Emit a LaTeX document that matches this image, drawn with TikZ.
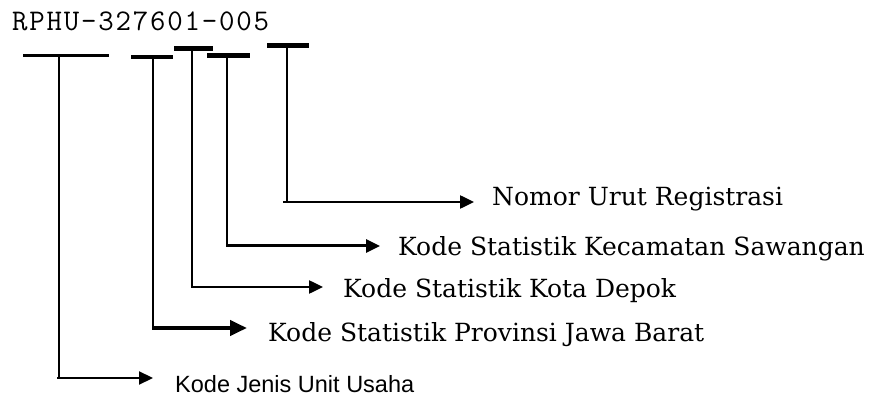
\documentclass[tikz,border=0pt]{standalone}
\usepackage{fontspec}
\setmainfont{DejaVu Serif}
\newfontfamily\monof[LetterSpace=6.0]{Latin Modern Mono}
\newfontfamily\sansf{Liberation Sans}
\usetikzlibrary{arrows.meta}
\begin{document}
\begin{tikzpicture}[x=1pt,y=-1pt,
  barline/.style={line width=#1},
  vline/.style={line width=1.8pt},
  harr/.style={line width=#1,-{Triangle[length=14pt,width=13pt]}},
  lab/.style={anchor=base west,inner sep=0pt,font=\fontsize{25}{30}\selectfont},
  jlab/.style={anchor=base west,inner sep=0pt,font=\sansf\fontsize{23.5}{27}\selectfont},
  title/.style={anchor=base west,inner sep=0pt,font=\monof\fontsize{30}{34}\selectfont}]
\useasboundingbox (0,0) rectangle (873,398);
% title
\node[title] (code) at (12,31) {RPHU-327601-005};
% bars
\coordinate (t1) at (59,56);
\coordinate (t2) at (153,57);
\coordinate (t3) at (192,48.5);
\coordinate (t4) at (227,55.5);
\coordinate (t5) at (287,45.5);
\draw[barline=3pt] (23,56) -- (109,56);
\draw[barline=4.5pt] (131,57) -- (173,57);
\draw[barline=5pt] (174,48.5) -- (213,48.5);
\draw[barline=5pt] (207,55.5) -- (250,55.5);
\draw[barline=5pt] (267,45.5) -- (309,45.5);
% labels
\node[lab] (l5) at (492,206) {Nomor Urut Registrasi};
\node[lab] (l4) at (398,255) {Kode Statistik Kecamatan Sawangan};
\node[lab] (l3) at (343,297) {Kode Statistik Kota Depok};
\node[lab] (l2) at (268,341) {Kode Statistik Provinsi Jawa Barat};
\node[jlab] (l1) at (175,392) {Kode Jenis Unit Usaha};
% arrow ends
\coordinate (e5) at (474,202);
\coordinate (e4) at (380,246);
\coordinate (e3) at (323,287);
\coordinate (e2) at (247,328);
\coordinate (e1) at (153,378);
% connectors
\draw[vline] (t5) -- (t5 |- e5);
\draw[harr=2.5pt] ([xshift=-4pt]t5 |- e5) -- (e5);
\draw[vline] (t4) -- (t4 |- e4);
\draw[harr=3pt] ([xshift=-1pt]t4 |- e4) -- (e4);
\draw[vline] (t3) -- (t3 |- e3);
\draw[harr=2.5pt] ([xshift=-1pt]t3 |- e3) -- (e3);
\draw[vline] (t2) -- (t2 |- e2);
\draw[line width=4pt,-{Triangle[length=17pt,width=15pt]}] ([xshift=-1pt]t2 |- e2) -- (e2);
\draw[vline] (t1) -- (t1 |- e1);
\draw[harr=2.2pt] ([xshift=-2pt]t1 |- e1) -- (e1);
\end{tikzpicture}
\end{document}
